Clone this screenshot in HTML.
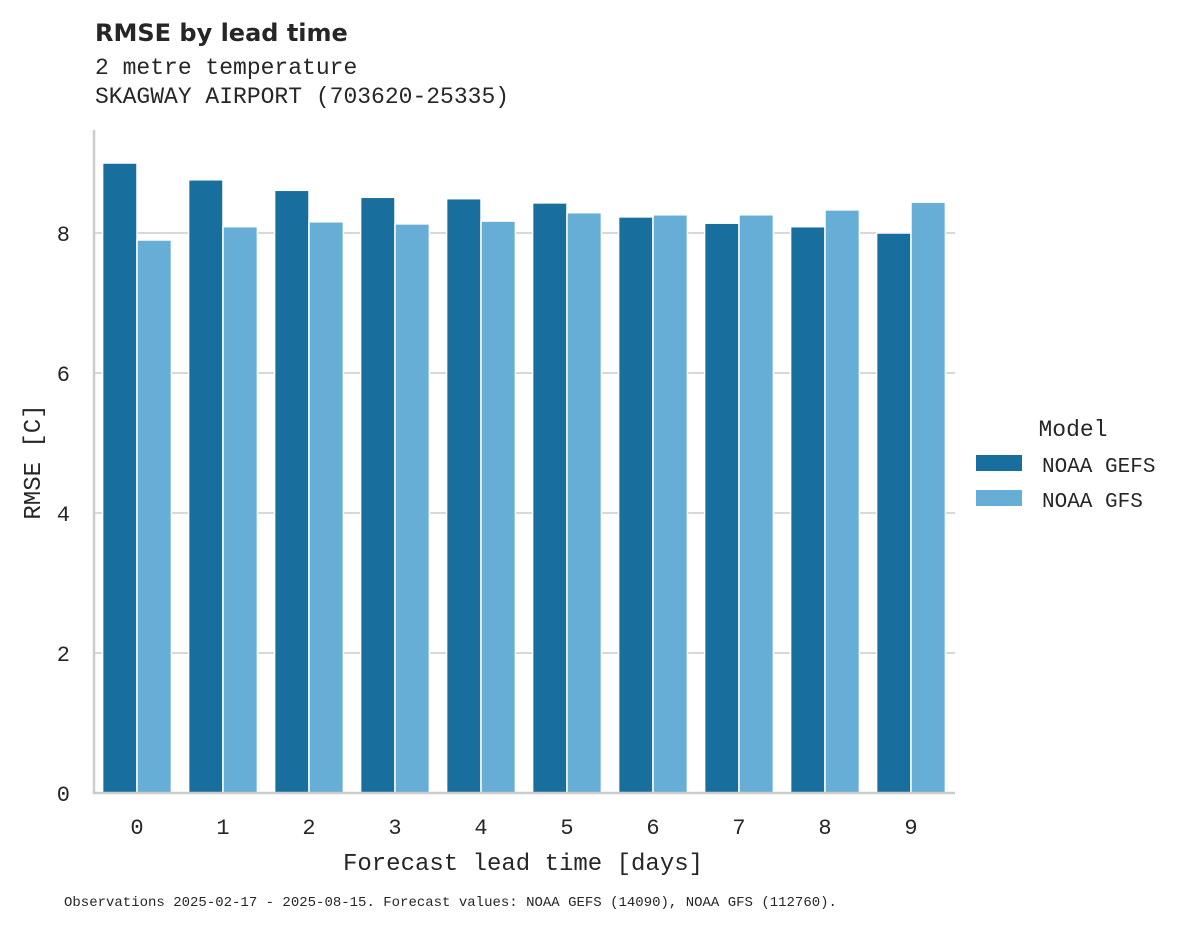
<!DOCTYPE html>
<html><head><meta charset="utf-8"><style>
body{margin:0;background:#fff;}
svg text{fill:#262626;}
.mono{font-family:"Liberation Mono","DejaVu Sans Mono",monospace;}
</style></head><body>
<svg id="chart" width="1195" height="928" xmlns="http://www.w3.org/2000/svg">
<text x="95" y="41" font-family="DejaVu Sans, Liberation Sans, sans-serif" font-weight="bold" font-size="24">RMSE by lead time</text>
<text class="mono" x="95" y="74" font-size="23">2 metre temperature</text>
<text class="mono" x="95" y="103" font-size="23">SKAGWAY AIRPORT (703620-25335)</text>
<g id="grid"></g>
<g id="bars"></g>
<line x1="94" y1="130" x2="94" y2="794" stroke="#ccc" stroke-width="2.5"/>
<line x1="93" y1="793" x2="955" y2="793" stroke="#ccc" stroke-width="2.5"/>
<g id="ticks"></g>
<text class="mono" x="523" y="870" font-size="24" text-anchor="middle">Forecast lead time [days]</text>
<text class="mono" x="40" y="462" font-size="24" text-anchor="middle" transform="rotate(-90 40 462)">RMSE [C]</text>
<g>
<text class="mono" x="1073" y="436" font-size="23" text-anchor="middle">Model</text>
<rect x="976" y="455" width="46" height="16" fill="#186e9c"/>
<text class="mono" x="1042" y="472" font-size="21">NOAA GEFS</text>
<rect x="976" y="490" width="46" height="16" fill="#67aed7"/>
<text class="mono" x="1042" y="507" font-size="21">NOAA GFS</text>
</g>
<text class="mono" x="64" y="906" font-size="14">Observations 2025-02-17 - 2025-08-15. Forecast values: NOAA GEFS (14090), NOAA GFS (112760).</text>
</svg>
<script>
const categories=["0","1","2","3","4","5","6","7","8","9"];
const gefsValues=[9.0,8.76,8.61,8.51,8.49,8.43,8.23,8.14,8.09,8.0];
const gfsValues=[7.9,8.09,8.16,8.13,8.17,8.29,8.26,8.26,8.33,8.44];
const yTicks=[0,2,4,6,8];
const NS="http://www.w3.org/2000/svg";
const y=v=>793-v*70;
const xc=i=>137+i*86;
const grid=document.getElementById('grid'),bars=document.getElementById('bars'),ticks=document.getElementById('ticks');
yTicks.forEach(t=>{
  if(t>0){const l=document.createElementNS(NS,'line');
  l.setAttribute('x1',94);l.setAttribute('x2',955);l.setAttribute('y1',y(t));l.setAttribute('y2',y(t));
  l.setAttribute('stroke','#cccccc');l.setAttribute('stroke-width','1.5');
  
  
  grid.appendChild(l);}
  const tx=document.createElementNS(NS,'text');
  tx.setAttribute('x',70);tx.setAttribute('y',y(t)+8);tx.setAttribute('font-size','22');tx.setAttribute('text-anchor','end');tx.setAttribute('class','mono');
  tx.textContent=t;
  
  
  ticks.appendChild(tx);
});
categories.forEach((c,i)=>{
  [[gefsValues[i],'#186e9c',-34.4,'gefs'],[gfsValues[i],'#67aed7',0,'gfs']].forEach(([v,col,off,nm])=>{
    const r=document.createElementNS(NS,'rect');
    r.setAttribute('x',xc(i)+off);r.setAttribute('width',34.4);
    r.setAttribute('y',y(v));r.setAttribute('height',v*70);
    r.setAttribute('fill',col);r.setAttribute('stroke','#fff');r.setAttribute('stroke-width','1.5');
    
    
    bars.appendChild(r);
  });
  const tx=document.createElementNS(NS,'text');
  tx.setAttribute('x',xc(i));tx.setAttribute('y',834);tx.setAttribute('font-size','22');tx.setAttribute('text-anchor','middle');tx.setAttribute('class','mono');
  tx.textContent=c;
  
  
  ticks.appendChild(tx);
});
</script>
</body></html>
